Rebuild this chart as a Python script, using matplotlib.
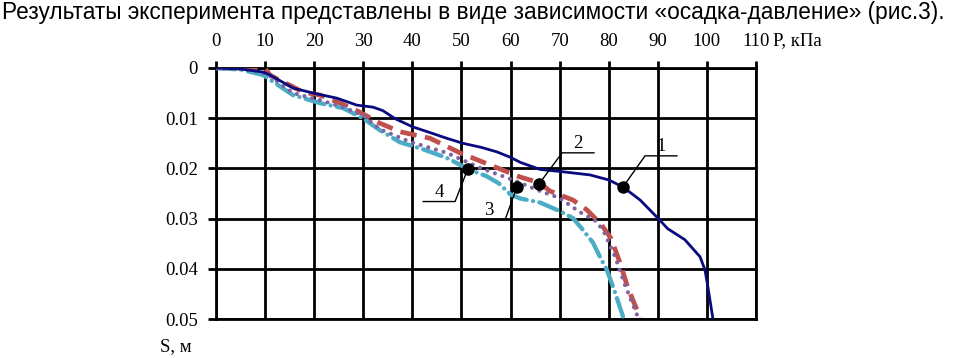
import matplotlib
matplotlib.use("Agg")
import matplotlib.pyplot as plt
from matplotlib import font_manager
import numpy as np

# ---- data ----
x_ticks = [0, 10, 20, 30, 40, 50, 60, 70, 80, 90, 100, 110]
y_ticks = [0, 0.01, 0.02, 0.03, 0.04, 0.05]
y_tick_labels = ["0", "0.01", "0.02", "0.03", "0.04", "0.05"]

p1 = [0, 5, 9.6, 11, 13, 15.7, 19.8, 24.6, 28.7, 32, 34, 36.5, 40, 44, 47, 50.3, 54, 57.2, 60, 62, 66, 70, 76.2, 80, 82.9, 86.4, 90, 92, 95.5, 98.6, 99.6, 100.2, 101.2]
s1 = [0, 0.0002, 0.0008, 0.0014, 0.0025, 0.004, 0.005, 0.006, 0.0074, 0.0078, 0.0085, 0.0101, 0.0117, 0.013, 0.014, 0.015, 0.0158, 0.0167, 0.0178, 0.0188, 0.0202, 0.0206, 0.0213, 0.0223, 0.0237, 0.0263, 0.0299, 0.032, 0.0342, 0.0376, 0.0402, 0.0436, 0.0498]

p2 = [0, 10, 11, 13, 15, 17.7, 21.2, 25.3, 29.3, 33.4, 37.5, 43.6, 49.7, 55.8, 61.9, 66, 68, 72.7, 75.6, 78.5, 80.5, 82.3, 83.9, 86.4]
s2 = [0, 0.0001, 0.0014, 0.0025, 0.0034, 0.0048, 0.0054, 0.007, 0.0088, 0.011, 0.0127, 0.014, 0.0169, 0.0193, 0.0217, 0.0229, 0.0245, 0.0263, 0.0283, 0.0312, 0.034, 0.0388, 0.0438, 0.0497]

p3 = [0, 5, 9, 11, 15.7, 21.2, 25.9, 29.9, 33.4, 39.5, 47, 53.8, 60.5, 66, 70, 74.1, 77.6, 79.2, 81.3, 83.3, 85.9]
s3 = [0, 0.0002, 0.0008, 0.0016, 0.005, 0.0064, 0.0078, 0.0094, 0.0122, 0.0147, 0.0169, 0.0199, 0.0223, 0.0245, 0.0259, 0.0287, 0.0306, 0.033, 0.0376, 0.0432, 0.0495]

p4 = [0, 5, 9.6, 15.7, 21.2, 25.9, 29.9, 33.4, 37.5, 42.2, 47, 51.7, 55, 57.5, 60, 62, 66, 70, 72.7, 74.7, 76.8, 78.2, 79.6, 80.9, 82.9]
s4 = [0, 0.0003, 0.0014, 0.0054, 0.007, 0.008, 0.01, 0.0124, 0.0148, 0.0162, 0.0179, 0.0203, 0.0215, 0.0229, 0.0252, 0.026, 0.0268, 0.0285, 0.0299, 0.0322, 0.0348, 0.0376, 0.0402, 0.0436, 0.0495]

# markers with curve labels
marker_labels = ["1", "2", "3", "4"]
dot_p = [82.9, 65.8, 61.3, 51.3]
dot_s = [0.0237, 0.0231, 0.0237, 0.0201]
knee_p = [87.4, 70.5, 58.9, 48.7]
knee_s = [0.0175, 0.0169, 0.0302, 0.0266]
end_p = [93.9, 77.0, 52.1, 42.2]

title = "Результаты эксперимента представлены в виде зависимости «осадка-давление» (рис.3)."

# ---- figure ----
W, H = 954, 358
fig = plt.figure(figsize=(W / 100, H / 100), dpi=100)
ax = fig.add_axes([216 / W, 1 - 319 / H, (756 - 216) / W, (319 - 68) / H])

serif = "Liberation Serif"
tick_fs = 13.5

ax.plot(p2, s2, color="#c0504d", lw=3.4, linestyle=(0, (3.5, 1.8)), zorder=3)
ax.plot(p3, s3, color="#8064a2", lw=3.0, linestyle=(0, (0.01, 1.9)), dash_capstyle="round", zorder=4)
ax.plot(p4, s4, color="#4bacc6", lw=3.1, linestyle=(0, (4.5, 1.5, 0.01, 1.5)), dash_capstyle="round", zorder=3)
ax.plot(p1, s1, color="#0a0a80", lw=2.0, zorder=5)

for lab, dx, dy, kx, ky, ex in zip(marker_labels, dot_p, dot_s, knee_p, knee_s, end_p):
    ax.plot([dx, kx, ex], [dy, ky, ky], color="black", lw=1.0, zorder=6)
    ax.plot([dx], [dy], "o", color="black", ms=8, zorder=7)
    ax.text((kx + ex) / 2, ky - 0.0002, lab, ha="center", va="bottom",
            fontsize=tick_fs, family=serif, zorder=7)

ax.set_xlim(0, 110)
ax.set_ylim(0.05, 0)
ax.set_xticks(x_ticks)
ax.set_yticks(y_ticks)
ax.set_yticklabels(y_tick_labels)
ax.xaxis.tick_top()
ax.grid(True, color="black", lw=2.0, zorder=1)
for sp in ax.spines.values():
    sp.set_linewidth(2.0)
    sp.set_color("black")
ax.tick_params(axis="x", which="both", direction="out", length=5, width=2.0, pad=8,
               labelsize=tick_fs, top=True, bottom=False)
ax.tick_params(axis="y", which="both", direction="out", length=6, width=2.0, pad=7,
               labelsize=tick_fs)
for t in ax.get_xticklabels() + ax.get_yticklabels():
    t.set_family(serif)

fig.text(773 / W, 1 - 41 / H, "P, кПа", ha="left", va="center", fontsize=tick_fs, family=serif)
fig.text(160 / W, 1 - 347 / H, "S, м", ha="left", va="center", fontsize=tick_fs, family=serif)

# title fitted to width
names = {f.name for f in font_manager.fontManager.ttflist}
title_family = "Liberation Sans Narrow" if "Liberation Sans Narrow" in names else "Liberation Sans"
tt = fig.text(2 / W, 1 - 12 / H, title, ha="left", va="center", fontsize=14,
              family=title_family)
fig.canvas.draw()
r = fig.canvas.get_renderer()
w = tt.get_window_extent(r).width
tt.set_fontsize(14 * 948 / w)

fig.savefig("out.png", dpi=100)
